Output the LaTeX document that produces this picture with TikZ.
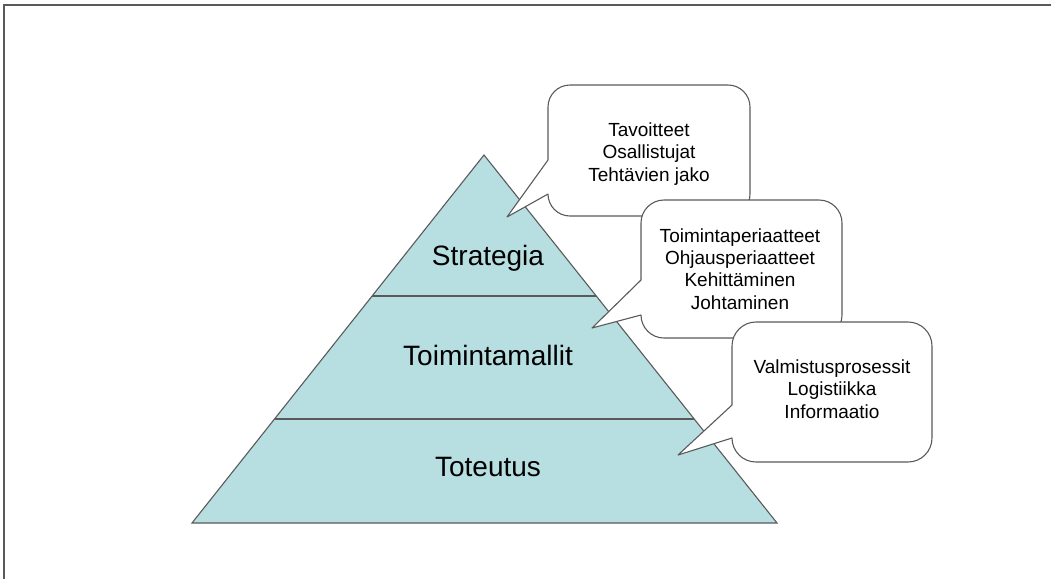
\documentclass[tikz,border=0pt]{standalone}
\usepackage{fontspec}
\setmainfont{Liberation Sans}
\usetikzlibrary{calc}

\definecolor{pyrfill}{RGB}{183,222,224}
\definecolor{edge}{RGB}{90,90,90}

% rounded callout: #1 left, #2 top, #3 right, #4 bottom, #5 radius,
% #6 upper end of the wedge on the left side, #7/#8 wedge tip
\newcommand\bubblepath[8]{%
  \filldraw[bubble]
    (#1+#5,#2) -- (#3-#5,#2)
    .. controls (#3-#5+0.5523*#5,#2) and (#3,#2+#5-0.5523*#5) .. (#3,#2+#5)
    -- (#3,#4-#5)
    .. controls (#3,#4-#5+0.5523*#5) and (#3-#5+0.5523*#5,#4) .. (#3-#5,#4)
    -- (#1+#5,#4)
    .. controls (#1+#5-0.5523*#5,#4) and (#1,#4-#5+0.5523*#5) .. (#1,#4-#5)
    -- (#7,#8) -- (#1,#6)
    -- (#1,#2+#5)
    .. controls (#1,#2+#5-0.5523*#5) and (#1+#5-0.5523*#5,#2) .. (#1+#5,#2)
    -- cycle;}

\begin{document}
\begin{tikzpicture}[x=1pt,y=-1pt,
  bubble/.style={draw=edge,fill=white,line width=1.1pt,line join=round},
  layer/.style={draw=edge,line width=1.1pt},
  bigtext/.style={font=\fontsize{28}{32}\selectfont},
  smalltext/.style={font=\fontsize{19}{22.3}\selectfont,align=center}]
\useasboundingbox (0,0) rectangle (1051,579);

% outer frame (top and left only)
\draw[edge,line width=1.3pt] (1051,5) -- (4,5) -- (4,579);

% pyramid
\coordinate (apex) at (484,155);
\coordinate (bl) at (192,523);
\coordinate (br) at (777,523);
\filldraw[layer,fill=pyrfill] (apex) -- (br) -- (bl) -- cycle;
\coordinate (d1l) at ($(apex)!0.383!(bl)$);
\coordinate (d1r) at ($(apex)!0.383!(br)$);
\coordinate (d2l) at ($(apex)!0.7174!(bl)$);
\coordinate (d2r) at ($(apex)!0.7174!(br)$);
\draw[layer] (d1l) -- (d1r);
\draw[layer] (d2l) -- (d2r);

\node[bigtext] (strat) at (488,258) {Strategia};
\node[bigtext] (malli) at (488,355) {Toimintamallit};
\node[bigtext] (tot) at (488,467) {Toteutus};

% callouts, each one laid over the previous
\bubblepath{548}{85}{750}{216}{22}{160}{507}{217}
\node[smalltext] (c1) at (649,154) {Tavoitteet\\Osallistujat\\Tehtävien jako};

\bubblepath{641}{200}{842}{338}{23}{280}{592}{328}
\node[smalltext] (c2) at (740,269) {Toimintaperiaatteet\\Ohjausperiaatteet\\Kehittäminen\\Johtaminen};

\bubblepath{732}{322}{932}{462}{24}{405}{678}{455}
\node[smalltext] (c3) at (832,389) {Valmistusprosessit\\Logistiikka\\Informaatio};
\end{tikzpicture}
\end{document}
